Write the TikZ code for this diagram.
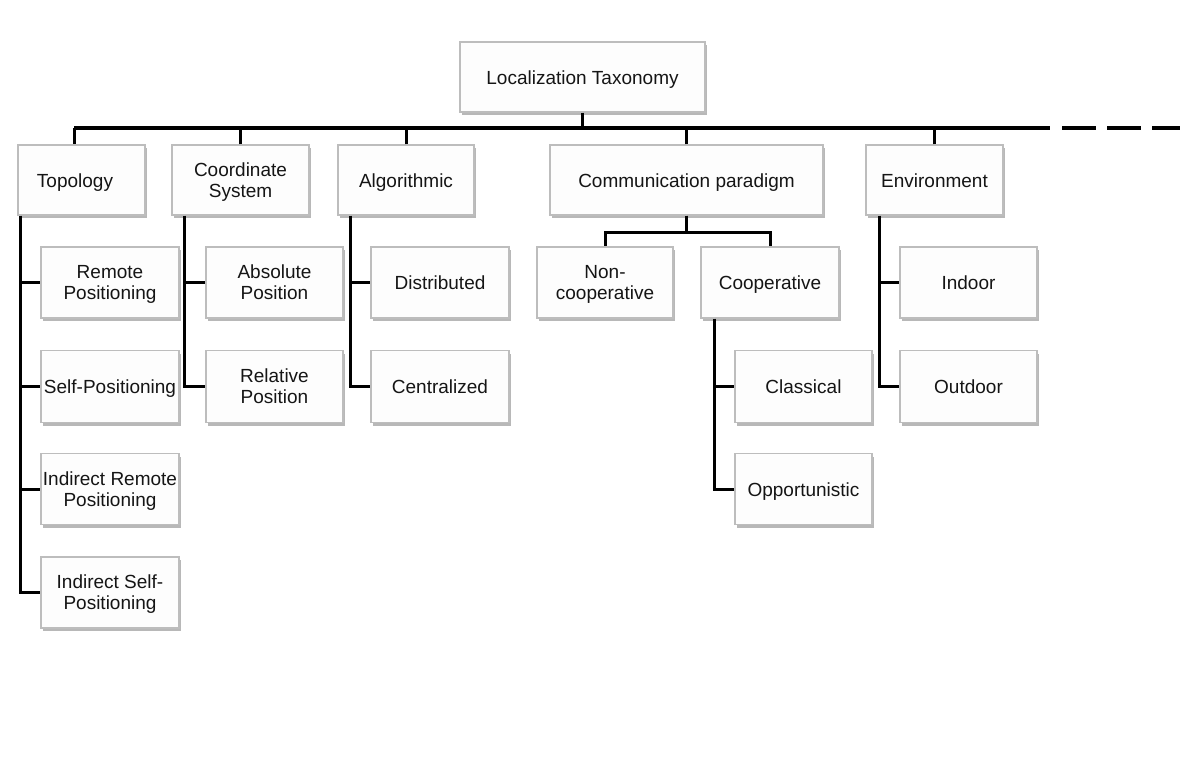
\documentclass[tikz,border=0pt]{standalone}
\usepackage{fontspec}
\setmainfont{Liberation Sans}
\usetikzlibrary{shadows}
\definecolor{boxline}{HTML}{BDBDBD}
\definecolor{boxfill}{HTML}{FDFDFD}
\definecolor{txt}{HTML}{151515}
\tikzset{
  box/.style={draw=boxline, line width=1.4pt, fill=boxfill, inner sep=0pt,
    align=center, text=txt, font=\fontsize{19}{21}\selectfont, text depth=0pt,
    drop shadow={shadow xshift=2pt, shadow yshift=-3pt, fill=black, opacity=0.28}},
  one/.style={text height=16pt, text depth=2pt},
  conn/.style={line width=3pt, black},
  busline/.style={line width=4pt, black},
}
\begin{document}
\begin{tikzpicture}[x=1pt,y=-1pt]
\useasboundingbox (0,0) rectangle (1189,766);
% root
\node[box, one, minimum width=245, minimum height=70] (root) at (582.5,77) {Localization Taxonomy};
% level 1
\node[box, one, minimum width=127, minimum height=70] (topo) at (81.5,180) {\hspace*{-13pt}Topology};
\node[box, minimum width=137, minimum height=70] (cs) at (240.5,180) {Coordinate\\System};
\node[box, one, minimum width=136, minimum height=70] (alg) at (406,180) {Algorithmic};
\node[box, one, minimum width=273, minimum height=70] (cp) at (686.5,180) {Communication paradigm};
\node[box, one, minimum width=137, minimum height=70] (env) at (934.5,180) {Environment};
% topology children
\node[box, minimum width=138, minimum height=71] (rp) at (110,282.5) {Remote\\Positioning};
\node[box, one, minimum width=138, minimum height=72] (sp) at (110,386.5) {Self-Positioning};
\node[box, minimum width=138, minimum height=71] (irp) at (110,489) {Indirect Remote\\Positioning};
\node[box, minimum width=138, minimum height=71] (isp) at (110,592.5) {Indirect Self-\\Positioning};
% coordinate children
\node[box, minimum width=137, minimum height=71] (abs) at (274.5,282.5) {Absolute\\Position};
\node[box, minimum width=137, minimum height=72] (rel) at (274.5,386.5) {Relative\\Position};
% algorithmic children
\node[box, one, minimum width=138, minimum height=71] (dist) at (440,282.5) {Distributed};
\node[box, one, minimum width=138, minimum height=72] (cent) at (440,386.5) {Centralized};
% communication children
\node[box, minimum width=136, minimum height=71] (nc) at (605,282.5) {Non-\\cooperative};
\node[box, one, minimum width=138, minimum height=71] (coop) at (770,282.5) {Cooperative};
\node[box, one, minimum width=137, minimum height=72] (cls) at (803.5,386.5) {Classical};
\node[box, one, minimum width=137, minimum height=71] (opp) at (803.5,489) {Opportunistic};
% environment children
\node[box, one, minimum width=137, minimum height=71] (ind) at (968.5,282.5) {Indoor};
\node[box, one, minimum width=137, minimum height=72] (out) at (968.5,386.5) {Outdoor};
% bus
\coordinate (busL) at (74,128);
\coordinate (busR) at (1050,128);
\coordinate (dashS) at (1062,128);
\coordinate (dashE) at (1180,128);
\draw[busline] (busL) -- (busR);
\draw[busline, dash pattern=on 34pt off 11pt] (dashS) -- (dashE);
\draw[conn] (root.south) -- (root.south |- busL);
\draw[conn] (busL) -- (busL |- topo.north);
\draw[conn] (cs.north) -- (cs.north |- busL);
\draw[conn] (alg.north) -- (alg.north |- busL);
\draw[conn] (cp.north) -- (cp.north |- busL);
\draw[conn] (env.north) -- (env.north |- busL);
% topology branches
\draw[conn] ([xshift=3pt]topo.south west) |- (isp.west);
\draw[conn] ([xshift=3pt]topo.south west |- rp.west) -- (rp.west);
\draw[conn] ([xshift=3pt]topo.south west |- sp.west) -- (sp.west);
\draw[conn] ([xshift=3pt]topo.south west |- irp.west) -- (irp.west);
% coordinate branches
\draw[conn] ([xshift=13pt]cs.south west) |- (rel.west);
\draw[conn] ([xshift=13pt]cs.south west |- abs.west) -- (abs.west);
% algorithmic branches
\draw[conn] ([xshift=13pt]alg.south west) |- (cent.west);
\draw[conn] ([xshift=13pt]alg.south west |- dist.west) -- (dist.west);
% communication branches
\draw[conn] (cp.south) -- ++(0,17) -| (nc.north);
\draw[conn] (cp.south) -- ++(0,17) -| (coop.north);
\draw[conn] ([xshift=14pt]coop.south west) |- (opp.west);
\draw[conn] ([xshift=14pt]coop.south west |- cls.west) -- (cls.west);
% environment branches
\draw[conn] ([xshift=14pt]env.south west) |- (out.west);
\draw[conn] ([xshift=14pt]env.south west |- ind.west) -- (ind.west);
\end{tikzpicture}
\end{document}
